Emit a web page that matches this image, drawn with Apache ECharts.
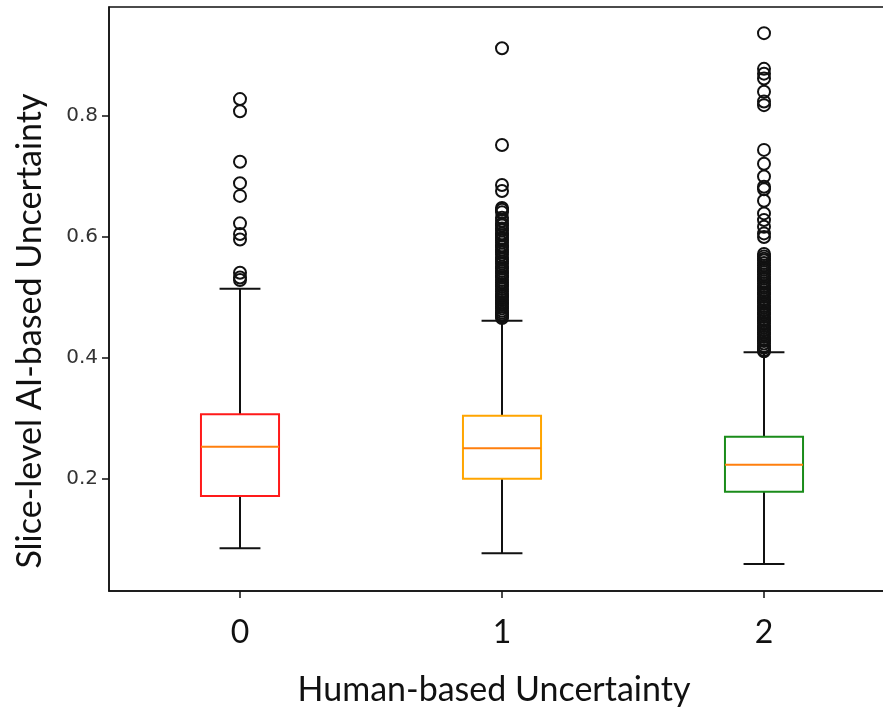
<!DOCTYPE html>
<html>
<head>
<meta charset="utf-8">
<script src="https://cdn.jsdelivr.net/npm/echarts@6/dist/echarts.min.js"></script>
<style>
  html, body { margin: 0; padding: 0; background: #fff; }
  #chart { width: 883px; height: 711px; }
</style>
</head>
<body>
<div id="chart"></div>
<script>
// Human-based uncertainty grades on the x axis
const categories = ['0', '1', '2'];

// Five-number summary per grade
const whiskerLow  = [0.0855, 0.0772, 0.0595];
const q1          = [0.172, 0.2005, 0.179];
const median      = [0.2534, 0.2507, 0.2236];
const q3          = [0.307, 0.3046, 0.2699];
const whiskerHigh = [0.5146, 0.4617, 0.4094];

// Points beyond the upper whisker
const outliers0 = [0.828, 0.808, 0.7245, 0.689, 0.668, 0.6226, 0.605, 0.596, 0.541, 0.533, 0.529];
const outliers1 = [0.912, 0.752, 0.686, 0.676, 0.648, 0.645, 0.641, 0.632, 0.627, 0.622, 0.619, 0.614,
  0.611, 0.606, 0.603, 0.598, 0.595, 0.591, 0.586, 0.583, 0.579, 0.575, 0.571, 0.566, 0.563, 0.559,
  0.556, 0.551, 0.548, 0.544, 0.540, 0.536, 0.533, 0.529, 0.525, 0.521, 0.518, 0.514, 0.510, 0.506,
  0.503, 0.499, 0.496, 0.492, 0.489, 0.485, 0.482, 0.478, 0.475, 0.472, 0.469, 0.466];
const outliers2 = [0.937, 0.878, 0.870, 0.862, 0.840, 0.824, 0.818, 0.744, 0.721, 0.700, 0.683, 0.679,
  0.660, 0.639, 0.628, 0.617, 0.606, 0.600, 0.572, 0.568, 0.564, 0.561, 0.557, 0.553, 0.549, 0.546,
  0.542, 0.538, 0.534, 0.531, 0.527, 0.523, 0.519, 0.516, 0.512, 0.508, 0.505, 0.501, 0.497, 0.494,
  0.490, 0.486, 0.483, 0.479, 0.475, 0.472, 0.468, 0.464, 0.461, 0.457, 0.453, 0.450, 0.446, 0.442,
  0.439, 0.435, 0.431, 0.428, 0.424, 0.420, 0.417, 0.413, 0.411];

// Y tick values
const yTicks = [0.2, 0.4, 0.6, 0.8];

// Axis titles
const xTitle = 'Human-based Uncertainty';
const yTitle = 'Slice-level AI-based Uncertainty';

const boxColors = ['#ff1a1a', '#ffa500', '#1a8c1a'];
const medianColor = '#ff7f0e';

const boxData = categories.map((c, i) => [i, whiskerLow[i], q1[i], median[i], q3[i], whiskerHigh[i]]);
const outlierData = [];
[outliers0, outliers1, outliers2].forEach((arr, i) => arr.forEach(v => outlierData.push([i, v])));

const chart = echarts.init(document.getElementById('chart'), null, { renderer: 'canvas' });

function renderBox(params, api) {
  const xi = api.value(0);
  const band = api.size([1, 0])[0];
  const halfBox = band * 0.149;
  const halfCap = band * 0.078;
  const pLow = api.coord([xi, api.value(1)]);
  const pQ1 = api.coord([xi, api.value(2)]);
  const pMed = api.coord([xi, api.value(3)]);
  const pQ3 = api.coord([xi, api.value(4)]);
  const pHigh = api.coord([xi, api.value(5)]);
  const cx = pLow[0];
  const black = { stroke: '#111', lineWidth: 2, fill: null };
  return {
    type: 'group',
    children: [
      { type: 'line', shape: { x1: cx, y1: pLow[1], x2: cx, y2: pQ1[1] }, style: black },
      { type: 'line', shape: { x1: cx, y1: pQ3[1], x2: cx, y2: pHigh[1] }, style: black },
      { type: 'line', shape: { x1: cx - halfCap, y1: pLow[1], x2: cx + halfCap, y2: pLow[1] }, style: black },
      { type: 'line', shape: { x1: cx - halfCap, y1: pHigh[1], x2: cx + halfCap, y2: pHigh[1] }, style: black },
      { type: 'rect', shape: { x: cx - halfBox, y: pQ3[1], width: halfBox * 2, height: pQ1[1] - pQ3[1] },
        style: { stroke: boxColors[xi], lineWidth: 2, fill: '#fff' } },
      { type: 'line', shape: { x1: cx - halfBox, y1: pMed[1], x2: cx + halfBox, y2: pMed[1] },
        style: { stroke: medianColor, lineWidth: 2 } }
    ]
  };
}

chart.setOption({
  animation: false,
  backgroundColor: '#fff',
  grid: {
    left: 109, top: 7, width: 786, height: 584,
    outerBoundsMode: 'none',
    containLabel: false,
    show: true, borderColor: '#111', borderWidth: 1.5, backgroundColor: 'transparent'
  },
  graphic: [
    {
      type: 'text',
      x: 494,
      y: 690,
      style: { text: xTitle, fontFamily: 'Lato', fontSize: 34, fill: '#111', align: 'center', verticalAlign: 'middle' }
    },
    {
      type: 'text',
      x: 30,
      y: 331,
      rotation: Math.PI / 2,
      style: { text: yTitle, fontFamily: 'Lato', fontSize: 34, fill: '#111', align: 'center', verticalAlign: 'middle' }
    }
  ],
  xAxis: {
    type: 'category',
    data: categories,
    boundaryGap: true,
    axisLine: { show: true, lineStyle: { color: '#111', width: 1.5 } },
    axisTick: { show: true, alignWithLabel: true, length: 7, lineStyle: { color: '#111', width: 1.5 } },
    axisLabel: { margin: 26, fontFamily: 'Lato', fontSize: 32, color: '#111' },
    splitLine: { show: false }
  },
  yAxis: {
    type: 'value',
    min: 0.0149,
    max: 0.9802,
    axisLine: { show: true, lineStyle: { color: '#111', width: 1.5 } },
    axisTick: { show: true, length: 7, customValues: yTicks, lineStyle: { color: '#111', width: 1.5 } },
    axisLabel: {
      customValues: yTicks, margin: 11, fontFamily: 'DejaVu Sans', fontSize: 20, color: '#333',
      formatter: v => v.toFixed(1)
    },
    splitLine: { show: false }
  },
  series: [
    {
      type: 'custom',
      renderItem: renderBox,
      encode: { x: 0, y: [1, 2, 3, 4, 5] },
      data: boxData,
      z: 2
    },
    {
      type: 'scatter',
      data: outlierData,
      symbol: 'circle',
      symbolSize: 12,
      itemStyle: { color: 'transparent', borderColor: '#111', borderWidth: 2, opacity: 1 },
      z: 3
    }
  ]
});
</script>
</body>
</html>
